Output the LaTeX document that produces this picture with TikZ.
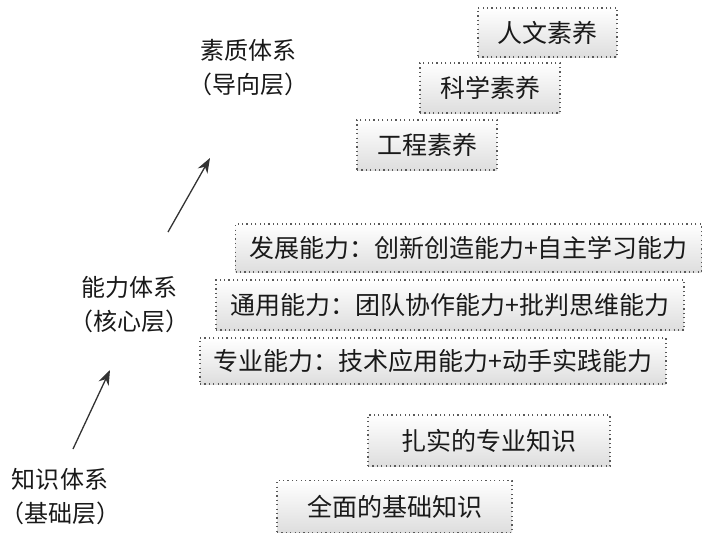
\documentclass[tikz,border=0pt]{standalone}
\usepackage{fontspec}
\newfontfamily\cjk{Noto Sans CJK SC}
\usetikzlibrary{arrows.meta}

\tikzset{
  layerbox/.style={draw=black!65, dash pattern=on 1.2pt off 3.2pt, line width=1.1pt,
    top color=white, bottom color=black!13, inner sep=0pt, text=black!90,
    font={\cjk\fontsize{25}{30}\selectfont}},
  layerlabel/.style={align=center, inner sep=0pt, text=black!90,
    font={\cjk\fontsize{24}{34}\selectfont}},
  uparrow/.style={draw=black!80, line width=1.3pt, -{Stealth[length=15pt,width=11pt]}}
}

\begin{document}
\begin{tikzpicture}[x=1pt,y=-1pt]
\useasboundingbox (0,0) rectangle (703,535);

% quality layer
\node[layerbox, minimum width=139pt, minimum height=49pt] (renwen) at (547.5,32.5) {人文素养};
\node[layerbox, minimum width=140pt, minimum height=50pt] (kexue) at (490,88) {科学素养};
\node[layerbox, minimum width=140pt, minimum height=50pt] (gongcheng) at (427,145) {工程素养};

% ability layer
\node[layerbox, minimum width=466pt, minimum height=48pt] (fazhan) at (468.5,248) {发展能力：创新创造能力+自主学习能力};
\node[layerbox, minimum width=468pt, minimum height=50pt] (tongyong) at (450,305) {通用能力：团队协作能力+批判思维能力};
\node[layerbox, minimum width=466pt, minimum height=46pt] (zhuanye) at (433,361) {专业能力：技术应用能力+动手实践能力};

% knowledge layer
\node[layerbox, minimum width=242pt, minimum height=51pt] (zhashi) at (489,440.5) {扎实的专业知识};
\node[layerbox, minimum width=235pt, minimum height=52pt] (quanmian) at (394.5,506.5) {全面的基础知识};

% labels
\node[layerlabel] (suzhi) at (248,68) {素质体系\\（导向层）};
\node[layerlabel] (nengli) at (129,305) {能力体系\\（核心层）};
\node[layerlabel] (zhishi) at (60,497) {知识体系\\（基础层）};

\coordinate (a1) at (168,232);
\coordinate (b1) at (210,158);
\coordinate (a2) at (73,449);
\coordinate (b2) at (110,370);
\path[uparrow] (a1) -- (b1);
\path[uparrow] (a2) -- (b2);
\end{tikzpicture}
\end{document}
